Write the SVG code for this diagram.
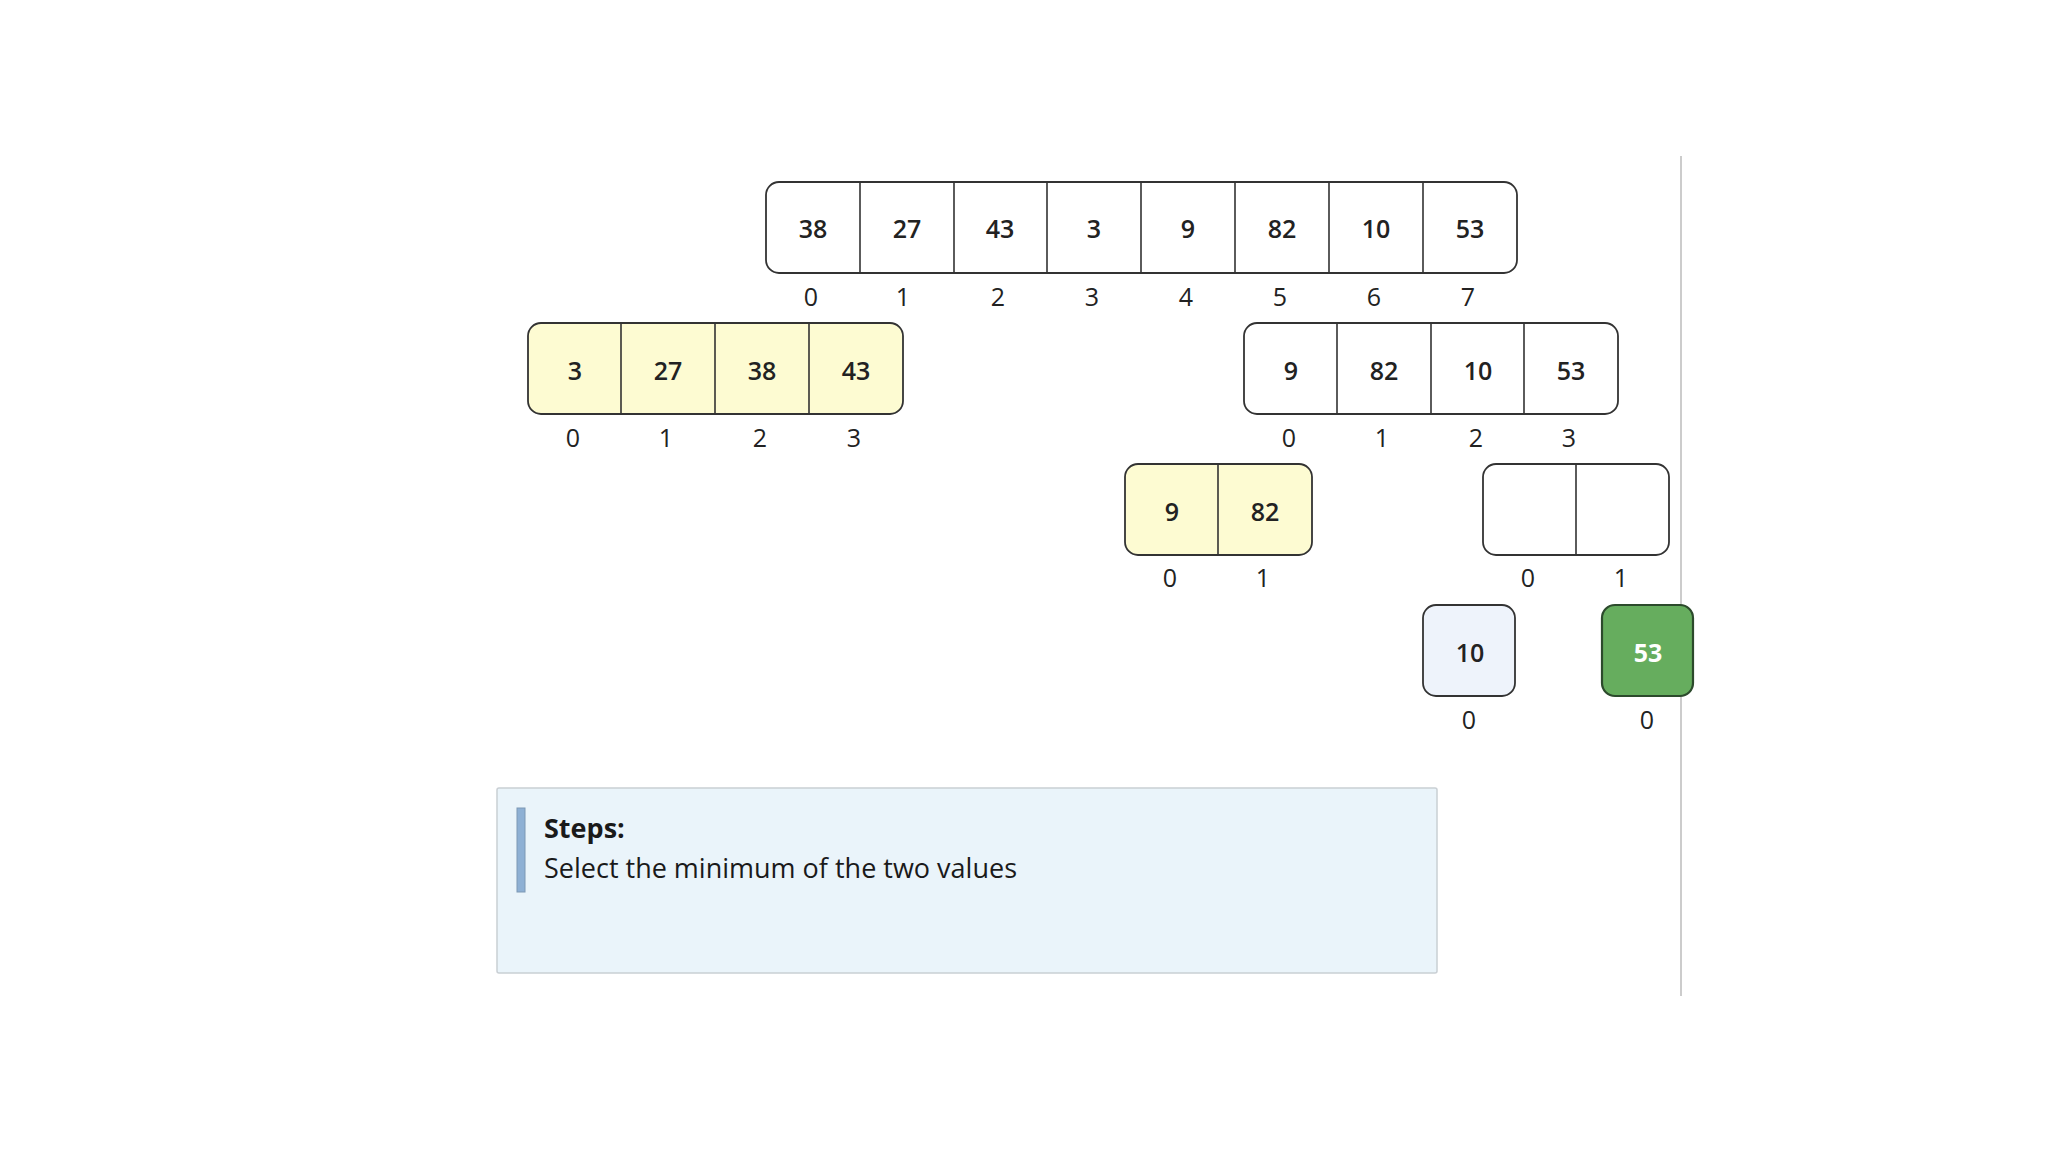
<svg xmlns="http://www.w3.org/2000/svg" width="2048" height="1152" viewBox="0 0 2048 1152">
<style>
.box{stroke:#333;stroke-width:1.8;fill:#fff}
.yel{fill:#fdfbd2}
.blue{fill:#eef3fb}
.grn{fill:#66ad5e;stroke:#2c4a2c;stroke-width:2.2}
.div{stroke:#333;stroke-width:1.6}
.v{font-family:"Open Sans","Noto Sans",sans-serif;font-size:25px;font-weight:600;fill:#222;text-anchor:middle;dominant-baseline:central}
.w{fill:#fff;font-weight:700}
.i{font-family:"Open Sans","Noto Sans",sans-serif;font-size:25px;fill:#222;text-anchor:middle;dominant-baseline:central}
.t{font-family:"Open Sans","Noto Sans",sans-serif;font-size:27px;fill:#1a1a1a}
</style>
<rect width="2048" height="1152" fill="#fff"/>
<line x1="1681" y1="156" x2="1681" y2="996" stroke="#cccccc" stroke-width="2"/>

<g id="array-top">
<rect class="box" x="766" y="182" width="751" height="91" rx="13"/>
<line class="div" x1="860" y1="182" x2="860" y2="273"/>
<line class="div" x1="954" y1="182" x2="954" y2="273"/>
<line class="div" x1="1047" y1="182" x2="1047" y2="273"/>
<line class="div" x1="1141" y1="182" x2="1141" y2="273"/>
<line class="div" x1="1235" y1="182" x2="1235" y2="273"/>
<line class="div" x1="1329" y1="182" x2="1329" y2="273"/>
<line class="div" x1="1423" y1="182" x2="1423" y2="273"/>
<text class="v" x="813" y="228">38</text>
<text class="v" x="907" y="228">27</text>
<text class="v" x="1000" y="228">43</text>
<text class="v" x="1094" y="228">3</text>
<text class="v" x="1188" y="228">9</text>
<text class="v" x="1282" y="228">82</text>
<text class="v" x="1376" y="228">10</text>
<text class="v" x="1470" y="228">53</text>
<text class="i" x="811" y="296">0</text>
<text class="i" x="903" y="296">1</text>
<text class="i" x="998" y="296">2</text>
<text class="i" x="1092" y="296">3</text>
<text class="i" x="1186" y="296">4</text>
<text class="i" x="1280" y="296">5</text>
<text class="i" x="1374" y="296">6</text>
<text class="i" x="1468" y="296">7</text>
</g>

<g id="array-left">
<rect class="box yel" x="528" y="323" width="375" height="91" rx="13"/>
<line class="div" x1="621" y1="323" x2="621" y2="414"/>
<line class="div" x1="715" y1="323" x2="715" y2="414"/>
<line class="div" x1="809" y1="323" x2="809" y2="414"/>
<text class="v" x="575" y="370">3</text>
<text class="v" x="668" y="370">27</text>
<text class="v" x="762" y="370">38</text>
<text class="v" x="856" y="370">43</text>
<text class="i" x="573" y="437">0</text>
<text class="i" x="666" y="437">1</text>
<text class="i" x="760" y="437">2</text>
<text class="i" x="854" y="437">3</text>
</g>

<g id="array-right">
<rect class="box" x="1244" y="323" width="374" height="91" rx="13"/>
<line class="div" x1="1337" y1="323" x2="1337" y2="414"/>
<line class="div" x1="1431" y1="323" x2="1431" y2="414"/>
<line class="div" x1="1524" y1="323" x2="1524" y2="414"/>
<text class="v" x="1291" y="370">9</text>
<text class="v" x="1384" y="370">82</text>
<text class="v" x="1478" y="370">10</text>
<text class="v" x="1571" y="370">53</text>
<text class="i" x="1289" y="437">0</text>
<text class="i" x="1382" y="437">1</text>
<text class="i" x="1476" y="437">2</text>
<text class="i" x="1569" y="437">3</text>
</g>

<g id="array-9-82">
<rect class="box yel" x="1125" y="464" width="187" height="91" rx="13"/>
<line class="div" x1="1218" y1="464" x2="1218" y2="555"/>
<text class="v" x="1172" y="511">9</text>
<text class="v" x="1265" y="511">82</text>
<text class="i" x="1170" y="577">0</text>
<text class="i" x="1263" y="577">1</text>
</g>

<g id="array-empty">
<rect class="box" x="1483" y="464" width="186" height="91" rx="13"/>
<line class="div" x1="1576" y1="464" x2="1576" y2="555"/>
<text class="i" x="1528" y="577">0</text>
<text class="i" x="1621" y="577">1</text>
</g>

<g id="cell-10">
<rect class="box blue" x="1423" y="605" width="92" height="91" rx="13"/>
<text class="v" x="1470" y="652">10</text>
<text class="i" x="1469" y="719">0</text>
</g>

<g id="cell-53">
<rect class="grn" x="1602" y="605" width="91" height="91" rx="13"/>
<text class="v w" x="1648" y="652">53</text>
<text class="i" x="1647" y="719">0</text>
</g>

<g id="connectors"></g>

<g id="steps">
<rect x="497" y="788" width="940" height="185" rx="2" fill="#eaf4fa" stroke="#c9cfd4" stroke-width="1.5"/>
<rect x="517" y="808" width="8" height="84" fill="#8eb0d4" stroke="#7d98b4" stroke-width="1"/>
<text class="t" x="544" y="838" font-weight="700">Steps:</text>
<text class="t" x="544" y="878">Select the minimum of the two values</text>
</g>
</svg>
